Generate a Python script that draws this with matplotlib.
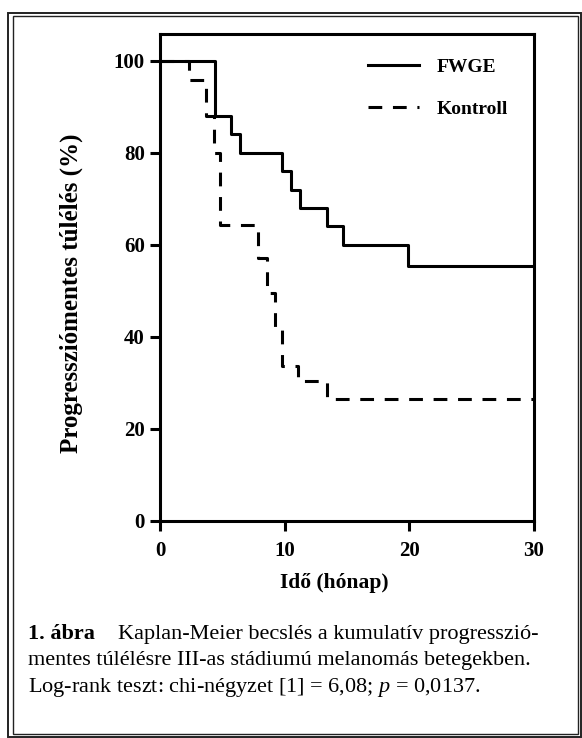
import numpy as np
import matplotlib.pyplot as plt
from matplotlib.patches import Rectangle

plt.rcParams['font.family'] = ['Liberation Serif', 'DejaVu Serif']
plt.rcParams['mathtext.fontset'] = 'custom'
plt.rcParams['mathtext.it'] = 'Liberation Serif:italic'
plt.rcParams['mathtext.rm'] = 'Liberation Serif'

# Kaplan-Meier steps
fwge_time = [0, 4.4, 5.7, 6.4, 9.8, 10.5, 11.2, 13.4, 14.7, 19.9, 30]
fwge_surv = [100, 88, 84, 80, 76, 72, 68, 64, 60, 55.3, 55.3]
ctrl_time = [0, 2.3, 3.65, 4.3, 4.85, 7.9, 8.55, 9.2, 9.75, 11.1, 13.4, 30]
ctrl_surv = [100, 95.8, 88, 80, 64.2, 57.2, 49.5, 41.6, 33.6, 30.4, 26.4, 26.4]

xticks = [0, 10, 20, 30]
yticks = [0, 20, 40, 60, 80, 100]

W, H = 582, 738
fig = plt.figure(figsize=(W / 100, H / 100), dpi=100)
ax = fig.add_axes([160 / W, 1 - 521 / H, 374 / W, 487 / H])

lw = 2.2
ax.step(fwge_time, fwge_surv, where='post', color='black', lw=lw, label='FWGE')
ax.step(ctrl_time, ctrl_surv, where='post', color='black', lw=lw,
        linestyle=(0, (4.5, 3.5)), label='Kontroll')

ax.set_xlim(0, 30)
ax.set_ylim(0, 105.8)
ax.set_xticks(xticks)
ax.set_yticks(yticks)
for s in ax.spines.values():
    s.set_linewidth(lw)
ax.tick_params(width=lw, length=7, labelsize=15)
ax.tick_params(axis='x', pad=7.5)
ax.tick_params(axis='y', pad=4)
for lab in ax.get_xticklabels() + ax.get_yticklabels():
    lab.set_fontweight('bold')

ax.set_xlabel('Idő (hónap)', fontsize=15.5, fontweight='bold')
ax.xaxis.set_label_coords(0.465, -0.127)
ax.xaxis.label.set_va('center')
ax.set_ylabel('Progressziómentes túlélés (%)', fontsize=18, fontweight='bold')
ax.yaxis.set_label_coords(-0.236, 0.467)
ax.yaxis.label.set_va('center')

leg = ax.legend(loc='upper left', bbox_to_anchor=(0.556, 0.950), frameon=False,
                handlelength=2.64, handletextpad=0.87, labelspacing=1.25,
                borderpad=0, borderaxespad=0,
                prop={'size': 14, 'weight': 'bold'})

# caption
fs = 16
fig.text(28 / W, 1 - 639 / H, '1. ábra', fontsize=fs, fontweight='bold', va='baseline')
fig.text(118 / W, 1 - 639 / H, 'Kaplan-Meier becslés a kumulatív progresszió-',
         fontsize=fs, va='baseline')
fig.text(28 / W, 1 - 665.5 / H, 'mentes túlélésre III-as stádiumú melanomás betegekben.',
         fontsize=fs, va='baseline')
fig.text(28 / W, 1 - 692 / H, 'Log-rank teszt: chi-négyzet [1] = 6,08; $p$ = 0,0137.',
         fontsize=fs, va='baseline')

# double frame around the figure
fig.patches.append(Rectangle((8.3 / W, 1 - 736.5 / H), 572.3 / W, 723.5 / H,
                             transform=fig.transFigure, fill=False, lw=1.4,
                             edgecolor='#222222'))
fig.patches.append(Rectangle((13 / W, 1 - 734 / H), 564.5 / W, 718 / H,
                             transform=fig.transFigure, fill=False, lw=1.0,
                             edgecolor='#222222'))

fig.savefig('out.png', dpi=100)
